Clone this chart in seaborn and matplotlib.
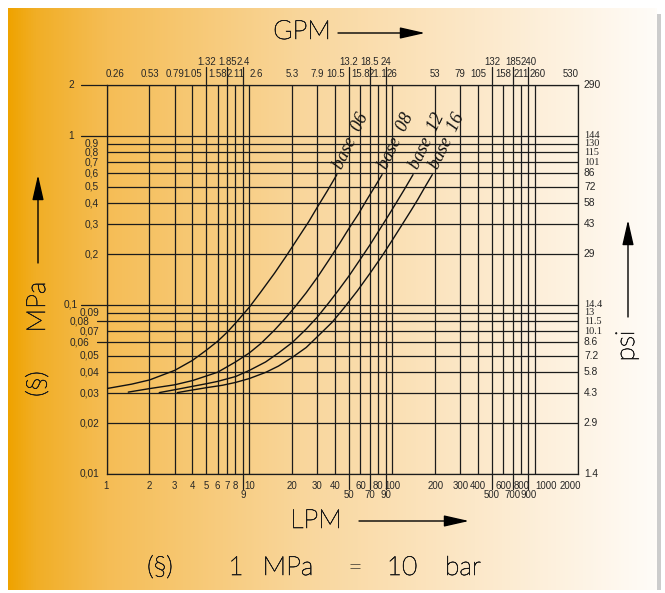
import numpy as np
import pandas as pd
import matplotlib
matplotlib.use("Agg")
import matplotlib.pyplot as plt
import matplotlib.transforms as mtransforms
import matplotlib.patheffects as pe
from matplotlib.colors import LinearSegmentedColormap
from matplotlib.patches import Rectangle
import seaborn as sns

# ---------------- data ----------------
lpm_ticks = [1, 2, 3, 4, 5, 6, 7, 8, 9, 10, 20, 30, 40, 50, 60, 70, 80, 90, 100,
             200, 300, 400, 500, 600, 700, 800, 900, 1000, 2000]
lpm_labels = [str(v) for v in lpm_ticks]
gpm_labels = ["0.26", "0.53", "0.79", "1.05", "1.32", "1.58", "1.85", "2.11", "2.4", "2.6",
              "5.3", "7.9", "10.5", "13.2", "15.8", "18.5", "21.1", "24", "26",
              "53", "79", "105", "132", "158", "185", "211", "240", "260", "530"]
gpm_upper = [5, 7, 9, 50, 70, 90, 500, 700, 900]
lpm_lower = [9, 50, 70, 90, 500, 700, 900]

mpa_ticks = [0.01, 0.02, 0.03, 0.04, 0.05, 0.06, 0.07, 0.08, 0.09, 0.1,
             0.2, 0.3, 0.4, 0.5, 0.6, 0.7, 0.8, 0.9, 1, 2]
mpa_labels = ["0,01", "0,02", "0,03", "0,04", "0,05", "0,06", "0,07", "0,08", "0,09", "0,1",
              "0,2", "0,3", "0,4", "0,5", "0,6", "0,7", "0,8", "0,9", "1", "2"]
psi_labels = ["1.4", "2.9", "4.3", "5.8", "7.2", "8.6", "10.1", "11.5", "13", "14.4",
              "29", "43", "58", "72", "86", "101", "115", "130", "144", "290"]
psi_serif = ["10.1", "11.5", "13", "14.4", "101", "115", "130", "144"]

series_names = ["base  06", "base  08", "base  12", "base  16"]
base06_lpm = [1.0, 1.5, 2.0, 3.0, 4.0, 5.0, 6.0, 7.0, 8.0, 10.0, 12.0, 15.0, 18.0, 22.0, 26.0, 30.0, 35.0, 41.0]
base06_mpa = [0.032, 0.034, 0.036, 0.041, 0.047, 0.054, 0.061, 0.069, 0.078, 0.097, 0.119, 0.154,
              0.193, 0.25, 0.31, 0.38, 0.47, 0.59]
base08_lpm = [1.42, 2.0, 3.0, 4.0, 5.0, 6.0, 8.0, 10.0, 12.0, 15.0, 18.0, 21.0, 25.0, 30.0, 36.0,
              43.0, 50.0, 58.0, 66.0, 75.0, 85.0]
base08_mpa = [0.0305, 0.032, 0.0337, 0.0357, 0.038, 0.040, 0.046, 0.052, 0.059, 0.071, 0.084,
              0.098, 0.118, 0.146, 0.184, 0.232, 0.285, 0.345, 0.415, 0.495, 0.59]
base12_lpm = [2.34, 3.0, 4.0, 5.0, 6.0, 8.0, 10.0, 13.0, 16.0, 20.0, 25.0, 30.0, 36.0, 42.0, 50.0,
              60.0, 70.0, 84.0, 95.0, 107.0, 122.0, 140.0]
base12_mpa = [0.0303, 0.0315, 0.033, 0.0342, 0.0353, 0.0377, 0.041, 0.046, 0.052, 0.060, 0.072,
              0.085, 0.103, 0.122, 0.149, 0.187, 0.227, 0.29, 0.342, 0.403, 0.484, 0.59]
base16_lpm = [3.13, 4.0, 5.0, 6.5, 8.0, 10.0, 13.0, 16.0, 20.0, 25.0, 30.0, 38.0, 46.0, 57.0,
              70.0, 85.0, 100.0, 119.0, 135.0, 151.0, 170.0, 191.0]
base16_mpa = [0.0303, 0.0314, 0.0324, 0.0335, 0.0348, 0.0367, 0.0399, 0.0435, 0.049, 0.056,
              0.065, 0.079, 0.096, 0.121, 0.154, 0.195, 0.241, 0.304, 0.36, 0.42, 0.50, 0.59]

# ---------------- style ----------------
sns.set_style("white")
plt.rcParams["font.family"] = ["Liberation Sans", "DejaVu Sans"]

W, H = 665, 593
fig = plt.figure(figsize=(W / 100, H / 100), dpi=100, facecolor="white")

# background (pixel coordinates)
bg = fig.add_axes([0, 0, 1, 1], zorder=0)
bg.set_xlim(0, W)
bg.set_ylim(H, 0)
bg.axis("off")
cmap = LinearSegmentedColormap.from_list(
    "bggrad",
    [(0.0, "#EFA300"), (0.04, "#F1AE25"), (0.15, "#F5BD55"), (0.45, "#F9D69B"),
     (0.72, "#FCE8C9"), (1.0, "#FFFCF8")])
grad = np.linspace(0, 1, 512).reshape(1, -1)
bg.imshow(grad, extent=(8, 657, 590, 8), aspect="auto", cmap=cmap, interpolation="bilinear")
bg.add_patch(Rectangle((657, 14), 4, 576, color="#cccccc", lw=0))

# main axes
x0, x1, y0, y1 = 106.5, 578.0, 85.0, 474.0
ax = fig.add_axes([x0 / W, 1 - y1 / H, (x1 - x0) / W, (y1 - y0) / H], zorder=1)
ax.patch.set_alpha(0)
ax.set_xscale("log")
ax.set_yscale("log")
ax.set_xlim(1, 2000)
ax.set_ylim(0.01, 2)

line_c = "#1c1c1c"
for v in lpm_ticks:
    ax.axvline(v, color=line_c, lw=0.9, zorder=1)
for v in mpa_ticks:
    ax.axhline(v, color=line_c, lw=0.9, zorder=1)
for s in ax.spines.values():
    s.set_color(line_c)
    s.set_linewidth(0.9)

# curves
frames = []
for name, xs, ys in zip(series_names,
                        [base06_lpm, base08_lpm, base12_lpm, base16_lpm],
                        [base06_mpa, base08_mpa, base12_mpa, base16_mpa]):
    frames.append(pd.DataFrame({"LPM": xs, "MPa": ys, "series": name}))
df = pd.concat(frames, ignore_index=True)
sns.lineplot(data=df, x="LPM", y="MPa", hue="series", palette=["#111111"] * 4,
             estimator=None, sort=False, legend=False, lw=1.0, ax=ax, zorder=3)
ax.set_xlabel("")
ax.set_ylabel("")
ax.set_xticks([])
ax.set_yticks([])
ax.minorticks_off()
ax.tick_params(which="both", length=0, labelbottom=False, labelleft=False)

# curve labels
for name, xs, ys in zip(series_names,
                        [base06_lpm, base08_lpm, base12_lpm, base16_lpm],
                        [base06_mpa, base08_mpa, base12_mpa, base16_mpa]):
    ax.text(xs[-1] * 1.09, ys[-1] * 1.06, name, rotation=64, rotation_mode="anchor",
            ha="left", va="baseline", fontsize=13, family="Liberation Serif",
            style="italic", color="#111111", zorder=4)

# tick labels
axw, axh = x1 - x0, y1 - y0
bx = mtransforms.blended_transform_factory(ax.transData, ax.transAxes)
by = mtransforms.blended_transform_factory(ax.transAxes, ax.transData)
tfs = 6.9
xshift = {"0.26": 8, "2.6": 7, "260": 3, "530": -7, "1000": 11, "2000": -8}
for v, lab, glab in zip(lpm_ticks, lpm_labels, gpm_labels):
    # bottom (LPM)
    if v in lpm_lower:
        yb = -(495 - y1) / axh
        ax.plot([v, v], [0, -(489 - y1) / axh], color=line_c, lw=0.9, transform=bx, clip_on=False)
    else:
        yb = -(486 - y1) / axh
    tr = mtransforms.offset_copy(bx, fig=fig, x=xshift.get(lab, 0), y=0, units="dots")
    ax.text(v, yb, lab, transform=tr, ha="center", va="center", fontsize=tfs)
    # top (GPM)
    if v in gpm_upper:
        yt = (y1 - 62) / axh
        ax.plot([v, v], [1, (y1 - 67) / axh], color=line_c, lw=0.9, transform=bx, clip_on=False)
    else:
        yt = (y1 - 74) / axh
    tr = mtransforms.offset_copy(bx, fig=fig, x=xshift.get(glab, 0), y=0, units="dots")
    ax.text(v, yt, glab, transform=tr, ha="center", va="center", fontsize=tfs)

far_a = [0.1, 1, 2]
far_b = [0.06, 0.08]
for v, lab, plab in zip(mpa_ticks, mpa_labels, psi_labels):
    if v in far_a:
        ax.plot([(81 - x0) / axw, 0], [v, v], color=line_c, lw=0.9, transform=by, clip_on=False)
        xl = (78 - x0) / axw if v == 0.1 else (74 - x0) / axw
    elif v in far_b:
        ax.plot([(97 - x0) / axw, 0], [v, v], color=line_c, lw=0.9, transform=by, clip_on=False)
        xl = (89 - x0) / axw
    else:
        xl = (99 - x0) / axw
    ax.text(xl, v, lab, transform=by, ha="right", va="center", fontsize=tfs + 0.4)
    fam = "Liberation Serif" if plab in psi_serif else "Liberation Sans"
    ax.text(1 + (584 - x1) / axw, v, plab, transform=by, ha="left", va="center",
            fontsize=7.4, family=fam)

# axis titles and arrows (pixel coordinates on background axes)
big = dict(fontsize=19, family=["Lato", "DejaVu Sans"], fontweight="light", color="#1a1a1a",
           path_effects=[pe.withStroke(linewidth=0.45, foreground="#1a1a1a")])
bg.text(302, 32, "GPM", ha="center", va="center", **big)
bg.text(316, 521, "LPM", ha="center", va="center", **big)
for word, xc in zip(["(§)", "1", "MPa", "=", "10", "bar"], [160, 236, 288, 355, 402, 463]):
    bg.text(xc, 568, word, ha="center", va="center", **big)
bg.text(38, 384, "(§)", ha="center", va="center", rotation=90, **big)
bg.text(38, 307, "MPa", ha="center", va="center", rotation=90, **big)
bg.text(627, 346, "psi", ha="center", va="center", rotation=90, **big)

arw = dict(arrowstyle="-|>,head_length=1.1,head_width=0.25", color="black", lw=1.0,
           mutation_scale=14, shrinkA=0, shrinkB=0)
bg.annotate("", xy=(425, 33), xytext=(338, 33), arrowprops=arw)
bg.annotate("", xy=(469, 521), xytext=(359, 521), arrowprops=arw)
bg.annotate("", xy=(38, 175), xytext=(38, 263), arrowprops=arw)
bg.annotate("", xy=(628, 220), xytext=(628, 317), arrowprops=arw)

fig.savefig("out.png", dpi=100, facecolor="white")
